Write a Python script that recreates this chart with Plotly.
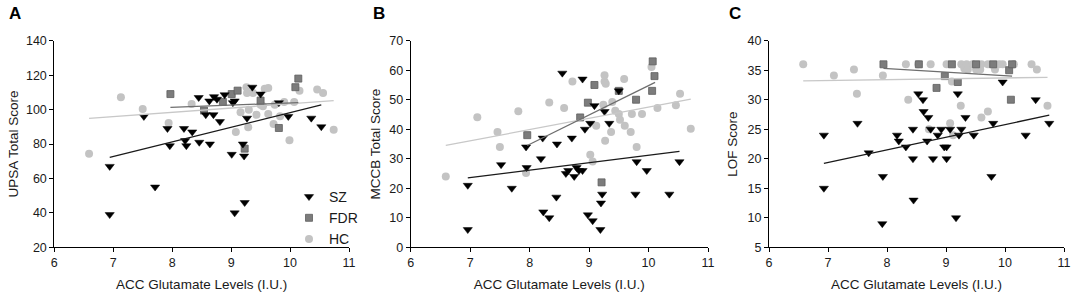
import plotly.graph_objects as go

# ---------------- Panel A : UPSA ----------------
sz_a_x = [6.94, 6.94, 7.52, 7.71, 7.92, 7.96, 8.20, 8.22, 8.24, 8.34, 8.45, 8.46, 8.57, 8.63, 8.64, 8.70, 8.71,
          8.76, 8.81, 8.89, 9.01, 9.03, 9.06, 9.06, 9.20, 9.22, 9.23, 9.27, 9.36, 9.50, 9.81, 9.97, 10.36, 10.53]
sz_a_y = [67, 39, 96, 55, 89, 79, 89, 82, 79, 87, 107, 81, 97, 105, 80, 97, 107.5,
          106, 93, 108.6, 74, 104, 105, 40, 80, 73, 46, 95, 113, 109, 104, 96, 95, 90]
fdr_a_x = [7.97, 8.54, 8.86, 9.01, 9.11, 9.50, 9.23, 9.81, 10.09, 10.14]
fdr_a_y = [109, 99.4, 104.4, 109, 111, 105.2, 77.3, 89.3, 113, 118]
hc_a_x = [6.59, 7.13, 7.50, 7.94, 8.33, 9.08, 9.16, 9.26, 9.27, 9.30, 9.29, 9.37, 9.43, 9.50, 9.54, 9.57, 9.63,
          9.63, 9.72, 9.74, 9.83, 9.90, 9.99, 10.07, 10.16, 10.46, 10.56, 10.74]
hc_a_y = [74.4, 107.1, 100.3, 92.2, 103.2, 87, 98.4, 112.9, 109.6, 99.9, 89.7, 109.6, 97, 102.8, 101.9, 112.1, 112.5,
          97.4, 91.6, 102.8, 96.1, 104.4, 82.2, 104.4, 111, 111.6, 109.6, 88.3]
fit_a = {"SZ": ([6.94, 10.53], [72.3, 102.7]),
         "FDR": ([7.97, 10.14], [101.3, 104.0]),
         "HC": ([6.59, 10.74], [94.9, 105.2])}

# ---------------- Panel B : MCCB ----------------
sz_b_x = [6.96, 6.96, 7.52, 7.70, 7.94, 7.95, 8.19, 8.22, 8.23, 8.33, 8.45, 8.46, 8.55, 8.61, 8.65, 8.71, 8.75,
          8.79, 8.83, 8.89, 8.89, 8.93, 9.02, 9.09, 9.26, 9.34, 9.50, 8.98, 9.06, 9.19, 9.22, 9.20, 9.80, 9.78,
          9.97, 10.35, 10.52]
sz_b_y = [6, 21, 28, 20, 34, 27, 30, 37, 12, 10, 17, 35, 59, 25, 26, 37, 24,
          27, 26, 26, 57, 40, 42, 48, 46, 42, 53, 11, 9, 6, 18, 15, 29, 18,
          26, 18, 29]
fdr_b_x = [7.96, 8.85, 8.98, 9.09, 9.50, 9.79, 9.21, 10.06, 10.10, 10.07]
fdr_b_y = [38, 44, 49, 55, 53, 50, 22, 53, 58, 63]
hc_b_x = [6.59, 7.12, 7.46, 7.50, 7.81, 7.94, 8.33, 8.58, 8.72, 9.02, 9.06, 9.12, 9.26, 9.26, 9.28, 9.27, 9.24,
          9.37, 9.39, 9.44, 9.50, 9.52, 9.59, 9.60, 9.70, 9.72, 9.80, 9.89, 10.05, 10.15, 10.46, 10.53, 10.71]
hc_b_y = [24, 44.1, 39.1, 34, 46.1, 25.2, 49.1, 47.2, 56.2, 31.4, 29.1, 41.2, 58.3, 56.2, 55.4, 36.1, 48.3,
          39.1, 49.2, 46.3, 45.2, 43.2, 57, 41.2, 39.1, 45.2, 34, 45.2, 61.1, 47.2, 48.1, 52, 40.2]
fit_b = {"SZ": ([6.96, 10.52], [23.5, 32.5]),
         "FDR": ([7.96, 10.11], [34.5, 55.9]),
         "HC": ([6.59, 10.71], [34.5, 50.2])}

# ---------------- Panel C : LOF ----------------
sz_c_x = [6.93, 6.93, 7.50, 7.69, 7.93, 7.92, 8.17, 8.20, 8.32, 8.44, 8.44, 8.45, 8.53, 8.61, 8.62, 8.68, 8.70,
          8.74, 8.78, 8.86, 8.92, 8.97, 9.01, 9.01, 9.07, 9.17, 9.20, 9.22, 9.26, 9.33, 9.47, 9.77, 9.80, 9.96,
          10.35, 10.52, 10.75]
sz_c_y = [24, 15, 26, 21, 17, 9, 24, 23, 22, 25, 20, 13, 31, 30, 28, 23, 27,
          25, 20, 24, 25, 22, 22, 20, 25, 10, 31, 24, 25, 27, 24, 17, 26, 33,
          24, 30, 26]
fdr_c_x = [7.94, 8.54, 9.10, 8.98, 8.84, 9.20, 9.51, 9.80, 10.07, 10.12, 10.10]
fdr_c_y = [36, 36, 36, 34, 32, 33, 36, 36, 35, 36, 30]
hc_c_x = [6.58, 7.10, 7.44, 7.49, 7.93, 8.32, 8.36, 8.53, 8.74, 8.71, 9.01, 9.07, 9.10, 9.25, 9.12, 9.26, 9.31,
          9.35, 9.37, 9.45, 9.51, 9.58, 9.60, 9.60, 9.71, 9.71, 9.83, 9.90, 9.96, 10.15, 10.45, 10.54, 10.72]
hc_c_y = [36, 34.1, 35.1, 31, 34.1, 36, 30, 36, 36, 25, 36, 26, 33.1, 29, 24, 36, 35.3,
          36, 35.1, 36, 35.1, 35.1, 36, 27, 28, 36, 35.1, 36, 36, 36, 36, 35.1, 29]
fit_c = {"SZ": ([6.93, 10.75], [19.2, 27.4]),
         "FDR": ([7.94, 10.12], [35.3, 34.0]),
         "HC": ([6.58, 10.72], [33.2, 33.8])}

x_ticks = [6, 7, 8, 9, 10, 11]
y_titles = ["UPSA Total Score", "MCCB Total Score", "LOF Score"]
y_ranges = [[20, 140], [0, 70], [5, 40]]
y_dticks = [20, 10, 5]
panel_letters = ["A", "B", "C"]
x_title = "ACC Glutamate Levels (I.U.)"

FONT = "Liberation Sans, Arial, sans-serif"
W, H = 1084, 296
x_px = [(54.3, 349.0), (410.7, 708.0), (769.0, 1064.0)]
y_px = (40.7, 247.3)
letter_px = [15, 379, 735]
y_standoff = [4, 5, 6]

styles = {
    "SZ": dict(symbol="triangle-down", size=8, color="#000000", line=dict(color="#000000", width=0.5)),
    "FDR": dict(symbol="square", size=7, color="#7c7c7c", line=dict(color="#5e5e5e", width=0.8)),
    "HC": dict(symbol="circle", size=8, color="#c3c3c3", line=dict(color="#c3c3c3", width=0)),
}
line_colors = {"SZ": "#1a1a1a", "FDR": "#6e6e6e", "HC": "#c8c8c8"}

panels = [
    {"SZ": (sz_a_x, sz_a_y), "FDR": (fdr_a_x, fdr_a_y), "HC": (hc_a_x, hc_a_y), "fit": fit_a},
    {"SZ": (sz_b_x, sz_b_y), "FDR": (fdr_b_x, fdr_b_y), "HC": (hc_b_x, hc_b_y), "fit": fit_b},
    {"SZ": (sz_c_x, sz_c_y), "FDR": (fdr_c_x, fdr_c_y), "HC": (hc_c_x, hc_c_y), "fit": fit_c},
]

fig = go.Figure()
for i, p in enumerate(panels):
    xa = "x" if i == 0 else f"x{i+1}"
    ya = "y" if i == 0 else f"y{i+1}"
    for g in ["HC", "FDR", "SZ"]:
        xs, ys = p[g]
        fig.add_trace(go.Scatter(x=xs, y=ys, mode="markers", name=g, marker=styles[g],
                                 xaxis=xa, yaxis=ya, showlegend=False, cliponaxis=False))
    for g in ["HC", "FDR", "SZ"]:
        fx, fy = p["fit"][g]
        fig.add_trace(go.Scatter(x=fx, y=fy, mode="lines", line=dict(color=line_colors[g], width=1.3),
                                 xaxis=xa, yaxis=ya, showlegend=False, hoverinfo="skip"))

# legend entries (panel A)
for g in ["SZ", "FDR", "HC"]:
    fig.add_trace(go.Scatter(x=[None], y=[None], mode="markers", name=g, marker=styles[g],
                             xaxis="x", yaxis="y", showlegend=True))

layout = dict(
    width=W, height=H, margin=dict(l=0, r=0, t=0, b=0, autoexpand=False),
    paper_bgcolor="white", plot_bgcolor="white",
    font=dict(family=FONT, size=12, color="#1a1a1a"),
    showlegend=True,
    legend=dict(x=(311 - 22) / W, y=1 - 181 / H, xanchor="left", yanchor="top",
                font=dict(family=FONT, size=14, color="#1a1a1a"), bgcolor="rgba(0,0,0,0)",
                tracegroupgap=0, itemwidth=30),
    annotations=[],
)
for i in range(3):
    xk = "xaxis" if i == 0 else f"xaxis{i+1}"
    yk = "yaxis" if i == 0 else f"yaxis{i+1}"
    ya = "y" if i == 0 else f"y{i+1}"
    xa = "x" if i == 0 else f"x{i+1}"
    layout[xk] = dict(domain=[x_px[i][0] / W, x_px[i][1] / W], range=[6, 11], tickvals=x_ticks,
                      showline=True, linecolor="#000000", linewidth=1, ticks="outside", ticklen=4,
                      tickcolor="#000000", showgrid=False, zeroline=False, anchor=ya, automargin=False,
                      tickfont=dict(size=12.5, color="#1a1a1a"),
                      title=dict(text=x_title, font=dict(size=13.5, color="#1a1a1a"), standoff=10))
    layout[yk] = dict(domain=[1 - y_px[1] / H, 1 - y_px[0] / H], range=y_ranges[i], dtick=y_dticks[i],
                      showline=True, linecolor="#000000", linewidth=1, ticks="outside", ticklen=4,
                      tickcolor="#000000", showgrid=False, zeroline=False, anchor=xa, automargin=False,
                      tickfont=dict(size=12.5, color="#1a1a1a"),
                      title=dict(text=y_titles[i], font=dict(size=13.5, color="#1a1a1a"),
                                 standoff=y_standoff[i]))
    layout["annotations"].append(dict(text="<b>" + panel_letters[i] + "</b>", x=letter_px[i] / W,
                                      y=1 - 14 / H, xref="paper", yref="paper", showarrow=False,
                                      xanchor="center", yanchor="middle",
                                      font=dict(family=FONT, size=17, color="#000000")))
fig.update_layout(**layout)
fig.write_html("out.html", config={"displayModeBar": False},
               post_script="document.body.style.margin='0px';document.body.style.overflow='hidden';")
